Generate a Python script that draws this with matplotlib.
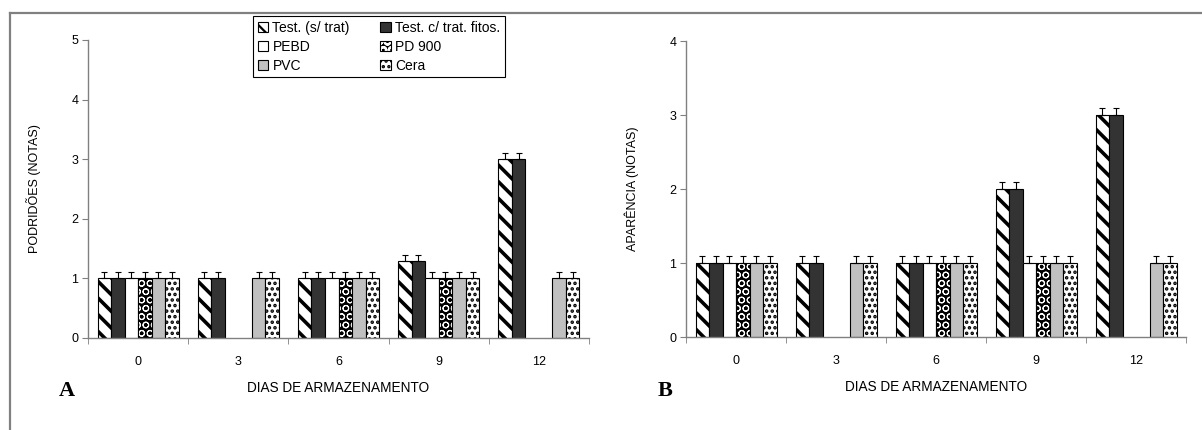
import numpy as np
import matplotlib
matplotlib.use("Agg")
import matplotlib.pyplot as plt
from matplotlib.lines import Line2D
from matplotlib.patches import Patch
from matplotlib.legend_handler import HandlerTuple

plt.rcParams['font.family'] = ['Liberation Sans', 'DejaVu Sans']

# dados
dias = ['0', '3', '6', '9', '12']
tratamentos = ['Test. (s/ trat)', 'Test. c/ trat. fitos.', 'PEBD', 'PD 900', 'PVC', 'Cera']

nan = np.nan
podridoes = {
    'Test. (s/ trat)':       [1, 1, 1, 1.3, 3],
    'Test. c/ trat. fitos.': [1, 1, 1, 1.3, 3],
    'PEBD':                  [1, nan, 1, 1, nan],
    'PD 900':                [1, nan, 1, 1, nan],
    'PVC':                   [1, 1, 1, 1, 1],
    'Cera':                  [1, 1, 1, 1, 1],
}
aparencia = {
    'Test. (s/ trat)':       [1, 1, 1, 2, 3],
    'Test. c/ trat. fitos.': [1, 1, 1, 2, 3],
    'PEBD':                  [1, nan, 1, 1, nan],
    'PD 900':                [1, nan, 1, 1, nan],
    'PVC':                   [1, 1, 1, 1, 1],
    'Cera':                  [1, 1, 1, 1, 1],
}
erro = 0.1

# estilo de cada tratamento: cor de fundo, hachura, cor da hachura, espessura
estilos = {
    'Test. (s/ trat)':       ('white',   '\\\\', 'black', 2.6),
    'Test. c/ trat. fitos.': ('#333333', '',     'black', 1.0),
    'PEBD':                  ('white',   '',     'black', 1.0),
    'PD 900':                ('black',   'OO',   'white', 0.75),
    'PVC':                   ('#c0c0c0', '',     'black', 1.0),
    'Cera':                  ('white',   '...',  'black', 1.7),
}

eixo_cor = '#808080'
larg = 0.135


def barras(ax, x, y, nome):
    face, hatch, hcor, hlw = estilos[nome]
    plt.rcParams['hatch.linewidth'] = hlw
    # fundo com hachura
    bs = ax.bar(x, y, larg, color=face, edgecolor=hcor, hatch=hatch, linewidth=0)
    for b in bs:
        if hasattr(b, 'set_hatch_linewidth'):
            b.set_hatch_linewidth(hlw)
    # contorno
    ax.bar(x, y, larg, facecolor='none', edgecolor='black', linewidth=0.8)


def painel(ax, dados, ymax, ylabel):
    x = np.arange(len(dias)) + 0.5
    for i, nome in enumerate(tratamentos):
        pos = x + (i - 2.5) * larg
        vals = np.array(dados[nome], dtype=float)
        barras(ax, pos, vals, nome)
        ok = ~np.isnan(vals)
        ax.errorbar(pos[ok], vals[ok], yerr=[np.zeros(ok.sum()), np.full(ok.sum(), erro)],
                    fmt='none', ecolor='black', elinewidth=0.8, capsize=2.5, capthick=0.8)
    ax.set_xlim(0, len(dias))
    ax.set_ylim(0, ymax)
    ax.set_yticks(range(ymax + 1))
    ax.set_xticks(x)
    ax.set_xticklabels(dias)
    ax.set_xticks(np.arange(len(dias) + 1), minor=True)
    ax.tick_params(axis='x', which='major', length=0, pad=13, labelsize=9)
    ax.tick_params(axis='x', which='minor', length=4, direction='out', color=eixo_cor)
    ax.tick_params(axis='y', length=4, direction='out', color=eixo_cor, labelsize=9, pad=3)
    for s in ['top', 'right']:
        ax.spines[s].set_visible(False)
    for s in ['left', 'bottom']:
        ax.spines[s].set_color(eixo_cor)
        ax.spines[s].set_linewidth(1.0)
    ax.set_ylabel(ylabel, fontsize=9, labelpad=22)
    ax.set_xlabel('DIAS DE ARMAZENAMENTO', fontsize=9.8, labelpad=9)


W, H = 1202, 430
fig = plt.figure(figsize=(W / 100, H / 100), dpi=100)

axA = fig.add_axes([88 / W, 1 - 338 / H, 501 / W, 298 / H])
axB = fig.add_axes([686 / W, 1 - 337 / H, 500 / W, 296 / H])

painel(axA, podridoes, 5, 'PODRIDÕES (NOTAS)')
painel(axB, aparencia, 4, 'APARÊNCIA (NOTAS)')

fig.text(59 / W, 1 - 391 / H, 'A', fontsize=16, fontweight='bold', family='Liberation Serif', va='center')
fig.text(658 / W, 1 - 391 / H, 'B', fontsize=16, fontweight='bold', family='Liberation Serif', va='center')

# legenda: fundo com hachura + contorno preto sobrepostos
handles = []
for nome in tratamentos:
    face, hatch, hcor, hlw = estilos[nome]
    plt.rcParams['hatch.linewidth'] = min(hlw, 1.6)
    fundo = Patch(facecolor=face, edgecolor=hcor, hatch=hatch, linewidth=0)
    contorno = Patch(facecolor='none', edgecolor='black', linewidth=0.8)
    handles.append((fundo, contorno))
ordem = [0, 2, 4, 1, 3, 5]
leg = fig.legend([handles[i] for i in ordem], [tratamentos[i] for i in ordem],
                 handler_map={tuple: HandlerTuple(ndivide=1, pad=0)},
                 loc='upper left', bbox_to_anchor=(253 / W, 1 - 16 / H), ncol=2,
                 fancybox=False, edgecolor='black', framealpha=1, fontsize=10,
                 handlelength=0.75, handleheight=0.75, handletextpad=0.3,
                 columnspacing=2.2, labelspacing=0.35, borderpad=0.35, borderaxespad=0)
leg.get_frame().set_linewidth(0.8)

# moldura da figura
fig.add_artist(Line2D([10 / W, 1], [1 - 13 / H, 1 - 13 / H], color='#808080', lw=1.6,
                      transform=fig.transFigure))
fig.add_artist(Line2D([10 / W, 10 / W], [0, 1 - 13 / H], color='#808080', lw=1.6,
                      transform=fig.transFigure))

fig.savefig('out.png', dpi=100)
